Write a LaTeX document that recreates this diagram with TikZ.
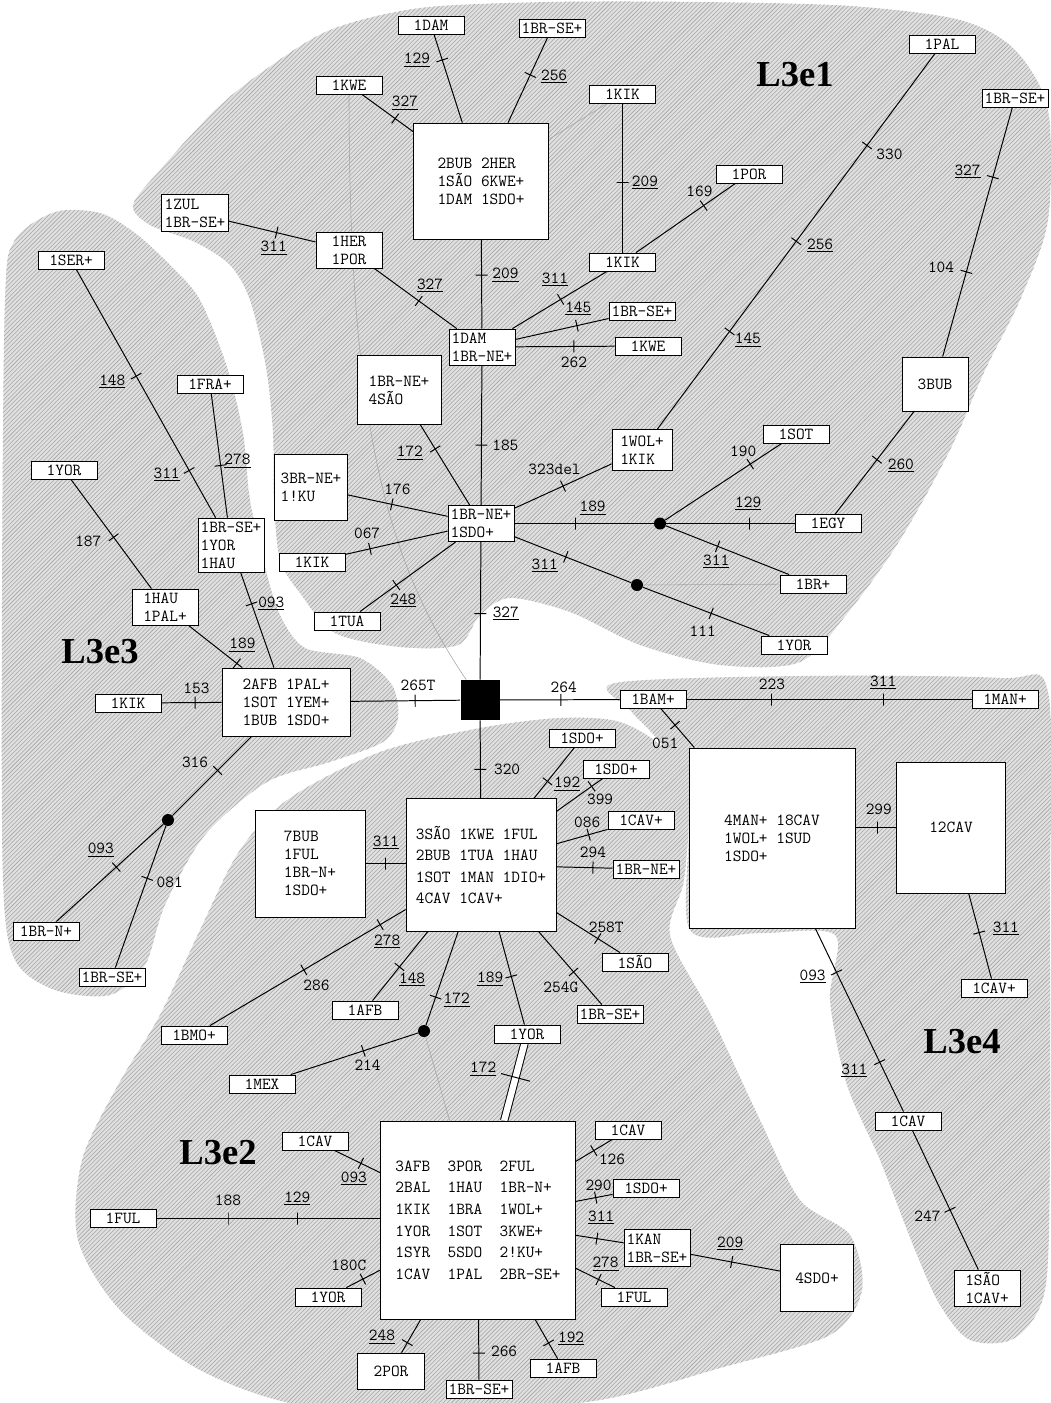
\documentclass[tikz,border=0pt]{standalone}
\usepackage{fontspec}
\newfontfamily\titlefont{Liberation Serif}
\usetikzlibrary{patterns}
\pgfdeclarelayer{blobs}
\pgfdeclarelayer{lines}
\pgfsetlayers{blobs,lines,main}
\newcommand{\un}[1]{\underline{#1}}
\tikzset{
  box/.style={draw, fill=white, line width=0.6pt, align=left, inner sep=1pt,
    font=\ttfamily\fontsize{12}{12.8}\selectfont},
  tag/.style={box, minimum width=1.65cm, minimum height=0.45cm},
  sz/.style 2 args={minimum width=#1*0.025cm, minimum height=#2*0.025cm},
  wide/.style={font=\ttfamily\fontsize{12}{15}\selectfont},
  wider/.style={font=\ttfamily\fontsize{12}{15.4}\selectfont},
  wire/.style={line width=0.7pt},
  faint/.style={gray!70, line width=0.4pt},
  tk/.style={sloped, draw, inner sep=0pt, minimum width=0pt, minimum height=0.3cm},
  tkk/.style={sloped, draw, line width=0.7pt, inner sep=0pt, minimum width=0pt, minimum height=0.75cm},
  num/.style={font=\ttfamily\fontsize{12}{13}\selectfont, inner sep=0pt},
  dot/.style={circle, fill=black, inner sep=0pt, minimum size=0.3cm},
  title/.style={font=\titlefont\bfseries\fontsize{26}{30}\selectfont},
  area/.style={fill=black!12, postaction={pattern=north east lines, pattern color=black!35}}
}
\begin{document}
\begin{tikzpicture}[x=0.025cm, y=-0.025cm]
\useasboundingbox (0,0) rectangle (1051,1403);

% L3e1
\node[tag] (dam1) at (431,25) {1DAM};
\node[tag] (bse1) at (552,28) {1BR-SE+};
\node[tag] (kwe1) at (349,85) {1KWE};
\node[box, sz={135}{116}] (A) at (481,181) {2BUB 2HER\\1SÃO 6KWE+\\1DAM 1SDO+};
\node[tag] (kik1) at (622.5,94) {1KIK};
\node[tag] (por1) at (749,174) {1POR};
\node[tag] (pal1) at (942,44) {1PAL};
\node[tag] (bse3) at (1015,98) {1BR-SE+};
\node[title] (t1) at (795,75) {L3e1};
\node[box, sz={67}{37}] (zul) at (195,213) {1ZUL\\1BR-SE+};
\node[box, sz={66}{36}] (her) at (349,250) {1HER\\1POR};
\node[tag] (kik2) at (622.5,262) {1KIK};
\node[box, sz={66}{36}] (hub2) at (482,347) {1DAM\\1BR-NE+};
\node[tag] (bse2) at (642,311) {1BR-SE+};
\node[tag] (kwe2) at (648,346) {1KWE};
\node[box, sz={84}{69}] (sao4) at (399,390) {1BR-NE+\\4SÃO};
\node[box, sz={66}{54}] (bub3) at (935,384) {3BUB};
\node[box, sz={60}{41}] (wolk) at (642,450) {1WOL+\\1KIK};
\node[tag] (sot1) at (796,434) {1SOT};
\node[box, sz={73}{66}] (ku) at (311,487) {3BR-NE+\\1!KU};
\node[box, sz={66}{36}] (hub1) at (481,523.5) {1BR-NE+\\1SDO+};
\node[dot] (dot1) at (660,523.5) {};
\node[tag] (egy) at (828,523.5) {1EGY};
\node[tag] (kik3) at (312,562) {1KIK};
\node[dot] (dot2) at (637,585) {};
\node[tag] (br1) at (813,584) {1BR+};
\node[tag] (tua) at (347,621) {1TUA};
\node[tag] (yor1) at (794,645) {1YOR};

% L3e3
\node[tag] (ser) at (71,260) {1SER+};
\node[tag] (fra) at (210,384) {1FRA+};
\node[tag] (yor3) at (64,470) {1YOR};
\node[box, sz={66}{54}] (yh3) at (231,545) {1BR-SE+\\1YOR\\1HAU};
\node[box, sz={66}{36}] (hp) at (165,607) {1HAU\\1PAL+};
\node[title] (t3) at (100,652) {L3e3};
\node[box, sz={128}{68}] (afb) at (286,702) {2AFB 1PAL+\\1SOT 1YEM+\\1BUB 1SDO+};
\node[tag] (kik4) at (128,703) {1KIK};
\node[dot] (dot3) at (168,820) {};
\node[tag] (brn) at (46,931) {1BR-N+};
\node[tag] (bse4) at (112,977) {1BR-SE+};

% centre and L3e4
\node[fill=black, inner sep=0pt, sz={39}{40}] (sq) at (480,700) {};
\node[tag] (bam) at (653,699.5) {1BAM+};
\node[tag] (man) at (1005,699.5) {1MAN+};
\node[box, sz={166}{180}] (B) at (772,838) {4MAN+ 18CAV\\1WOL+ 1SUD\\1SDO+};
\node[box, sz={109}{131}] (cav12) at (951,827.5) {12CAV};
\node[tag] (cav2) at (994,988) {1CAV+};
\node[title] (t4) at (962,1042) {L3e4};
\node[tag] (cav3) at (908,1121) {1CAV};
\node[box, sz={66}{36}] (sc) at (987,1288) {1SÃO\\1CAV+};

% L3e2
\node[box, sz={110}{107}] (bub7) at (310,863.5) {7BUB\\1FUL\\1BR-N+\\1SDO+};
\node[box, wide, sz={150}{133}] (C) at (481,865) {3SÃO 1KWE 1FUL\\2BUB 1TUA 1HAU\\1SOT 1MAN 1DIO+\\4CAV 1CAV+};
\node[tag] (sdoa) at (582,738) {1SDO+};
\node[tag] (sdob) at (616,769) {1SDO+};
\node[tag] (cavc) at (641,820) {1CAV+};
\node[tag] (bnec) at (646,869) {1BR-NE+};
\node[tag] (saoc) at (635,962) {1SÃO};
\node[tag] (bsec) at (610,1014) {1BR-SE+};
\node[tag] (yorc) at (527,1034) {1YOR};
\node[tag] (afbc) at (365,1010) {1AFB};
\node[tag] (bmo) at (194,1035) {1BMO+};
\node[dot] (dot4) at (424,1031) {};
\node[tag] (mex) at (262,1084) {1MEX};
\node[title] (t2) at (218,1153) {L3e2};
\node[box, wider, sz={195}{198}] (D) at (478,1220) {3AFB~~3POR~~2FUL\\2BAL~~1HAU~~1BR-N+\\1KIK~~1BRA~~1WOL+\\1YOR~~1SOT~~3KWE+\\1SYR~~5SDO~~2!KU+\\1CAV~~1PAL~~2BR-SE+};
\node[tag] (cavd) at (315,1141) {1CAV};
\node[tag] (fulw) at (123,1218.5) {1FUL};
\node[tag] (yord) at (328,1297) {1YOR};
\node[box, sz={67}{36}] (por2) at (391,1371) {2POR};
\node[tag] (bsed) at (479,1389) {1BR-SE+};
\node[tag] (afbd) at (563,1368) {1AFB};
\node[tag] (cavr) at (628,1130) {1CAV};
\node[tag] (sdod) at (646,1188) {1SDO+};
\node[box, sz={66}{37}] (kan) at (657,1248) {1KAN\\1BR-SE+};
\node[tag] (fulr) at (634,1297) {1FUL};
\node[box, sz={73}{67}] (sdo4) at (817,1278) {4SDO+};

\begin{pgfonlayer}{blobs}
% L3e1
\path[area] plot[smooth cycle] coordinates {(133,205) (160,170) (215,110) (265,70) (330,30) (420,8) (550,2) (700,2) (850,6) (960,20) (1015,50) (1048,110) (1048,220) (1020,300) (985,370) (950,450) (900,540) (850,610) (800,662) (720,665) (640,645) (570,612) (510,598) (480,615) (458,645) (400,647) (335,633) (300,593) (280,560) (274,500) (273,433) (266,367) (250,300) (230,265) (195,242) (150,225)};
% L3e3
\path[area] plot[smooth cycle] coordinates {(5,300) (15,240) (55,212) (100,213) (135,233) (170,265) (200,300) (227,367) (243,433) (250,500) (265,567) (280,615) (305,648) (360,658) (392,685) (398,718) (383,742) (330,762) (267,782) (205,835) (165,905) (145,965) (110,995) (55,990) (15,960) (3,880) (2,600)};
% L3e2
\path[area] plot[smooth cycle] coordinates {(290,798) (380,752) (480,728) (560,718) (620,722) (665,750) (688,800) (684,880) (670,935) (710,1013) (760,1120) (800,1200) (850,1235) (862,1290) (830,1335) (720,1368) (600,1400) (450,1412) (300,1405) (200,1370) (120,1310) (78,1240) (82,1160) (118,1085) (160,1015) (200,930) (240,850)};
% L3e4
\path[area] plot[smooth cycle] coordinates {(615,683) (800,676) (1000,678) (1048,692) (1050,900) (1050,1150) (1045,1290) (1015,1338) (970,1340) (940,1305) (915,1250) (880,1160) (847,1085) (830,1000) (835,935) (760,933) (690,930) (688,820) (665,750) (630,710)};
\end{pgfonlayer}

\begin{pgfonlayer}{lines}
\draw[faint] (kwe1) .. controls (349,420) and (385,560) .. (sq);
\draw[faint] (kik1) -- (A);
\draw[faint] (dot2) -- (br1);
\draw[faint] (dot4) -- (D);

% L3e1
\draw[wire] (A) -- (dam1) node[tk,pos=.71]{} node[num,pos=.71,xshift=-18]{\un{129}};
\draw[wire] (A) -- (bse1) node[tk,pos=.56]{} node[num,pos=.56,xshift=17,yshift=-1]{\un{256}};
\draw[wire] (A) -- (kwe1) node[tk,pos=.35]{} node[num,pos=.35,xshift=7,yshift=11]{\un{327}};
\draw[wire] (zul) -- (her) node[tk,pos=.55]{} node[num,pos=.55,xshift=-2,yshift=-11]{\un{311}};
\draw[wire] (her) -- (hub2) node[tk,pos=.54]{} node[num,pos=.54,xshift=8,yshift=11]{\un{327}};
\draw[wire] (A) -- (hub2) node[tk,pos=.4]{} node[num,pos=.4,xshift=17]{\un{209}};
\draw[wire] (kik1) -- (kik2) node[tk,pos=.53]{} node[num,pos=.53,xshift=16]{\un{209}};
\draw[wire] (kik2) -- (por1) node[tk,pos=.68]{} node[num,pos=.68,xshift=-3,yshift=10]{169};
\draw[wire] (kik2) -- (hub2) node[tk,pos=.49]{} node[num,pos=.49,xshift=-4,yshift=14]{\un{311}};
\draw[wire] (hub2) -- (bse2) node[tk,pos=.66]{} node[num,pos=.66,xshift=1,yshift=12]{\un{145}};
\draw[wire] (hub2) -- (kwe2) node[tk,pos=.59]{} node[num,pos=.59,yshift=-11]{262};
\draw[wire] (hub2) -- (hub1) node[tk,pos=.57]{} node[num,pos=.57,xshift=17]{185};
\draw[wire] (sao4) -- (hub1) node[tk,pos=.3]{} node[num,pos=.3,xshift=-18,yshift=-3]{\un{172}};
\draw[wire] (ku) -- (hub1) node[tk,pos=.44]{} node[num,pos=.44,xshift=4,yshift=11]{176};
\draw[wire] (kik3) -- (hub1) node[tk,pos=.24]{} node[num,pos=.24,xshift=-2,yshift=11]{067};
\draw[wire] (tua) -- (hub1) node[tk,pos=.38]{} node[num,pos=.38,xshift=5,yshift=-11]{\un{248}};
\draw[wire] (hub1) -- (wolk) node[tk,pos=.5]{} node[num,pos=.5,xshift=-6,yshift=12]{323del};
\draw[wire] (pal1) -- (wolk) node[tk,pos=.245]{} node[num,pos=.245,xshift=16,yshift=-6]{330}
  node[tk,pos=.5]{} node[num,pos=.5,xshift=17,yshift=-3]{\un{256}}
  node[tk,pos=.74]{} node[num,pos=.74,xshift=13,yshift=-6]{\un{145}};
\draw[wire] (hub1) -- (dot1) node[tk,pos=.44]{} node[num,pos=.44,xshift=12,yshift=11]{\un{189}};
\draw[wire] (dot1) -- (sot1) node[tk,pos=.73]{} node[num,pos=.73,xshift=-5,yshift=9]{190};
\draw[wire] (dot1) -- (egy) node[tk,pos=.65]{} node[num,pos=.65,xshift=-1,yshift=14]{\un{129}};
\draw[wire] (dot1) -- (br1) node[tk,pos=.42]{} node[num,pos=.42,xshift=-1,yshift=-11]{\un{311}};
\draw[wire] (egy) -- (bub3) node[tk,pos=.53]{} node[num,pos=.53,xshift=17,yshift=-4]{\un{260}};
\draw[wire] (bub3) -- (bse3) node[tk,pos=.34]{} node[num,pos=.34,xshift=-18,yshift=3]{104}
  node[tk,pos=.72]{} node[num,pos=.72,xshift=-18,yshift=4]{\un{327}};
\draw[wire] (hub1) -- (dot2) node[tk,pos=.44]{} node[num,pos=.44,xshift=-15,yshift=-6]{\un{311}};
\draw[wire] (dot2) -- (yor1) node[tk,pos=.54]{} node[num,pos=.54,xshift=-6,yshift=-13]{111};

% L3e3
\draw[wire] (ser) -- (yh3) node[tk,pos=.43]{} node[num,pos=.43,xshift=-17,yshift=-4]{\un{148}}
  node[tk,pos=.81]{} node[num,pos=.81,xshift=-16,yshift=-3]{\un{311}};
\draw[wire] (fra) -- (yh3) node[tk,pos=.58]{} node[num,pos=.58,xshift=12,yshift=3]{\un{278}};
\draw[wire] (yor3) -- (hp) node[tk,pos=.53]{} node[num,pos=.53,xshift=-18,yshift=-3]{187};
\draw[wire] (yh3) -- (afb) node[tk,pos=.33]{} node[num,pos=.33,xshift=14]{\un{093}};
\draw[wire] (hp) -- (afb) node[tk,pos=.9]{} node[num,pos=.9,xshift=4,yshift=13]{\un{189}};
\draw[wire] (kik4) -- (afb) node[tk,pos=.56]{} node[num,pos=.56,xshift=1,yshift=10]{153};
\draw[wire] (afb) -- (sq) node[tk,pos=.59]{} node[num,pos=.59,xshift=2,yshift=11]{265T};
\draw[wire] (afb) -- (dot3) node[tk,pos=.43]{} node[num,pos=.43,xshift=-16,yshift=6]{316};
\draw[wire] (dot3) -- (brn) node[tk,pos=.44]{} node[num,pos=.44,xshift=-11,yshift=12]{\un{093}};
\draw[wire] (dot3) -- (bse4) node[tk,pos=.37]{} node[num,pos=.37,xshift=16,yshift=-3]{081};

% centre and L3e4
\draw[wire] (hub1) -- (sq) node[tk,pos=.52]{} node[num,pos=.52,xshift=18]{\un{327}};
\draw[wire] (sq) -- (bam) node[tk,pos=.51]{} node[num,pos=.51,xshift=2,yshift=9]{264};
\draw[wire] (bam) -- (man) node[tk,pos=.3]{} node[num,pos=.3,yshift=11]{223}
  node[tk,pos=.69]{} node[num,pos=.69,yshift=12]{\un{311}};
\draw[wire] (bam) -- (B) node[tk,pos=.42]{} node[num,pos=.42,xshift=-7,yshift=-13]{051};
\draw[wire] (cav12.west -| B.east) -- (cav12.west) node[tk,pos=.54]{} node[num,pos=.54,xshift=1,yshift=13]{299};
\draw[wire] (cav12) -- (cav2) node[tk,pos=.46]{} node[num,pos=.46,xshift=19,yshift=3]{\un{311}};
\draw[wire] (B) -- (cav3) node[tk,pos=.24]{} node[num,pos=.24,xshift=-17,yshift=-3]{\un{093}}
  node[tk,pos=.73]{} node[num,pos=.73,xshift=-18,yshift=-6]{\un{311}};
\draw[wire] (cav3) -- (sc) node[tk,pos=.57]{} node[num,pos=.57,xshift=-16,yshift=-5]{247};
\draw[wire] (sq) -- (C) node[tk,pos=.63]{} node[num,pos=.63,xshift=19]{320};

% L3e2
\draw[wire] (C) -- (sdoa) node[tk,pos=.33]{} node[num,pos=.33,xshift=14,yshift=-2]{\un{192}};
\draw[wire] (C) -- (sdob) node[tk,pos=.76]{} node[num,pos=.76,xshift=6,yshift=-9]{399};
\draw[wire] (C) -- (cavc) node[tk,pos=.63]{} node[num,pos=.63,xshift=-1,yshift=9]{086};
\draw[wire] (C) -- (bnec) node[tk,pos=.65]{} node[num,pos=.65,yshift=11]{294};
\draw[wire] (C) -- (saoc) node[tk,pos=.65]{} node[num,pos=.65,xshift=6,yshift=8]{258T};
\draw[wire] (C) -- (bsec) node[tk,pos=.55]{} node[num,pos=.55,xshift=-9,yshift=-11]{254G};
\draw[wire] (C) -- (yorc) node[tk,pos=.48]{} node[num,pos=.48,xshift=-15,yshift=-2]{\un{189}};
\draw[wire] (C) -- (dot4) node[tk,pos=.7]{} node[num,pos=.7,xshift=15,yshift=-2]{\un{172}};
\draw[wire] (C) -- (afbc) node[tk,pos=.51]{} node[num,pos=.51,xshift=9,yshift=-9]{\un{148}};
\draw[wire] (C) -- (bmo) node[tk,pos=.13]{} node[num,pos=.13,xshift=5,yshift=-12]{\un{278}}
  node[tk,pos=.52]{} node[num,pos=.52,xshift=9,yshift=-11]{286};
\draw[wire] (bub7.east) -- (bub7.east -| C.west) node[tk,pos=.51]{} node[num,pos=.51,yshift=15]{\un{311}};
\draw[wire] (dot4) -- (mex) node[tk,pos=.43]{} node[num,pos=.43,xshift=3,yshift=-10]{214};
\draw[wire, double, double distance=4.5pt] (yorc) -- (D);
\path (yorc) -- (D) node[tkk,pos=.44]{} node[num,pos=.44,xshift=-23,yshift=6]{\un{172}};
\draw[wire] (D) -- (cavd) node[tk,pos=.42]{} node[num,pos=.42,xshift=-5,yshift=-11]{\un{093}};
\draw[wire] (fulw.east) -- (fulw.east -| D.west) node[tk,pos=.32]{} node[num,pos=.32,yshift=13]{188}
  node[tk,pos=.63]{} node[num,pos=.63,yshift=14]{\un{129}};
\draw[wire] (D) -- (yord) node[tk,pos=.51]{} node[num,pos=.51,xshift=-10,yshift=10]{180C};
\draw[wire] (D) -- (por2) node[tk,pos=.7]{} node[num,pos=.7,xshift=-18,yshift=4]{\un{248}};
\draw[wire] (D) -- (bsed) node[tk,pos=.56]{} node[num,pos=.56,xshift=18,yshift=1]{266};
\draw[wire] (D) -- (afbd) node[tk,pos=.6]{} node[num,pos=.6,xshift=16,yshift=3]{\un{192}};
\draw[wire] (D) -- (cavr) node[tk,pos=.49]{} node[num,pos=.49,xshift=13,yshift=-6]{126};
\draw[wire] (D) -- (sdod) node[tk,pos=.54]{} node[num,pos=.54,xshift=2,yshift=9]{290};
\draw[wire] (D) -- (kan) node[tk,pos=.44]{} node[num,pos=.44,xshift=3,yshift=15]{\un{311}};
\draw[wire] (D) -- (fulr) node[tk,pos=.58]{} node[num,pos=.58,xshift=5,yshift=11]{\un{278}};
\draw[wire] (kan) -- (sdo4) node[tk,pos=.46]{} node[num,pos=.46,xshift=-1,yshift=13]{\un{209}};
\end{pgfonlayer}
\end{tikzpicture}
\end{document}
